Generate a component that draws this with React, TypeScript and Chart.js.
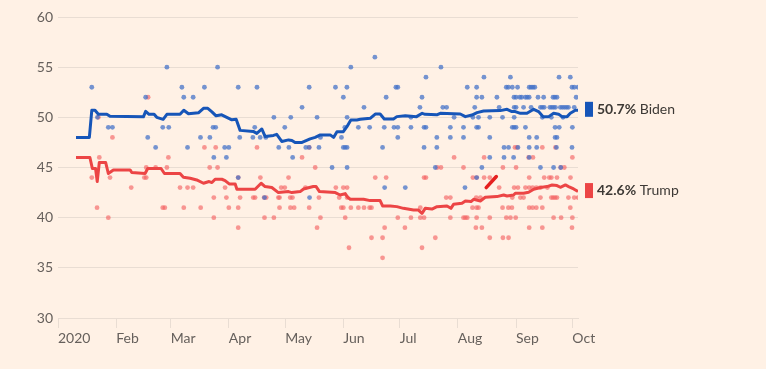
import { useEffect, useRef } from "react";
import { Chart, registerables } from "chart.js";

Chart.register(...registerables);

// x values are days since 1 Jan 2020
const monthTickDays = [0, 31, 60, 91, 121, 152, 182, 213, 244, 274];
const monthTickLabels = ["2020", "Feb", "Mar", "Apr", "May", "Jun", "Jul", "Aug", "Sep", "Oct"];

const bidenAverage: [number, number][] = [
  [9.6, 48], [16.7, 48], [18, 50.7], [19.7, 50.7], [21.5, 50.3], [26, 50.3], [27.7, 50.1], [45.5, 50.05],
  [46.7, 50.6], [48.5, 50.3], [51.2, 50.3], [52.6, 50.0], [56, 49.8], [58, 50.3], [65, 50.3], [67, 50.7],
  [69.5, 50.35], [74.8, 50.45], [77.5, 50.9], [79.8, 50.9], [82, 50.55], [84.2, 50.15], [87.2, 50.25],
  [89.9, 50.0], [92.6, 49.75], [94.9, 49.8], [97, 48.7], [104, 48.6], [105.9, 48.4], [108.6, 48.84],
  [110.3, 48.1], [114.8, 48.2], [116.5, 48.3], [119.2, 47.6], [122.8, 47.75], [124.6, 47.7], [126.3, 47.5],
  [130, 47.5], [134.3, 47.85], [137, 48.0], [139.7, 48.25], [145, 48.25], [146.8, 48.0], [148.6, 48.57],
  [152, 48.57], [153.9, 49.07], [156, 49.74], [159.2, 49.74], [161, 49.8], [166.3, 49.9], [169, 50.33],
  [171.6, 50.33], [173.8, 49.84], [178.7, 49.84], [180.5, 50.07], [185, 50.16], [191, 50.07], [194, 50.4],
  [195.6, 50.3], [201.8, 50.25], [203.6, 50.4], [214.3, 50.33], [217, 50.07], [220.5, 50.23], [223.2, 50.47],
  [226.7, 50.63], [235.6, 50.67], [239.2, 50.8], [241.8, 50.57], [243.6, 50.57], [246.3, 50.4], [249.8, 50.4],
  [253.4, 50.8], [256, 50.57], [258.4, 50.07], [261.4, 50.07], [264, 50.4], [266.7, 50.3], [268.5, 50.07],
  [271.2, 50.07], [272.9, 50.4], [275.6, 50.7], [277, 50.7],
];

const trumpAverage: [number, number][] = [
  [9.6, 46], [17, 46], [18.3, 44.9], [20, 44.9], [20.9, 43.6], [22, 45.5], [25.4, 45.5], [26.8, 44.4],
  [29.5, 44.76], [38.4, 44.76], [39.3, 44.5], [46.4, 44.4], [47.8, 44.9], [54.9, 44.9], [56.7, 44.4],
  [65, 44.4], [66.8, 44.03], [70.4, 43.93], [73.9, 43.76], [77.5, 43.43], [80.5, 43.6], [82, 43.5],
  [83.7, 43.83], [87.3, 43.83], [89, 43.7], [91.2, 43.36], [94.4, 43.36], [95.3, 42.83], [105, 42.83],
  [108.2, 43.43], [110.3, 43.1], [113.9, 43.0], [117.4, 42.5], [122.8, 42.6], [124.6, 42.5], [129, 42.6],
  [130.8, 42.86], [136, 43.1], [137.5, 43.1], [139.3, 42.6], [147.7, 42.5], [150.3, 42.26], [153, 42.4],
  [154.3, 42.03], [155.7, 41.83], [162.8, 41.83], [166.3, 41.7], [171.6, 41.7], [172.9, 41.17], [177, 41.17],
  [180.5, 41.1], [184, 40.93], [189.4, 40.76], [192, 40.76], [193.9, 40.43], [195.6, 40.93], [199.2, 40.86],
  [201.9, 41.1], [207.2, 41.17], [209.3, 40.93], [210.7, 41.33], [215.2, 41.43], [217, 41.66], [220, 41.6],
  [221.4, 41.83], [225, 41.66], [227.6, 42.03], [233.8, 42.1], [237.4, 42.26], [239.2, 42.16], [242.7, 42.26],
  [243.6, 42.43], [248, 42.43], [250.7, 42.53], [253.4, 42.83], [257, 43.0], [260.5, 43.1], [263.2, 43.26],
  [265.8, 43.2], [267.6, 43.03], [270.3, 43.26], [272, 43.1], [274.7, 42.86], [277, 42.6],
];

// individual polls: [share, days...]
const bidenPolls: [number, number[]][] = [
  [56, [168.8]],
  [55, [58, 85, 156, 204]],
  [54, [196, 226.9, 241, 266.9, 272.9]],
  [53, [18, 66, 78, 96, 106, 133.8, 147.8, 153.9, 180, 181, 218, 223, 238.8, 239.9, 242, 244.8, 251, 252, 253, 254, 273.8, 275, 277]],
  [52, [46.7, 67, 72, 152, 174.8, 193.9, 223, 225.8, 233.8, 242.9, 244, 246, 247, 249, 250, 251, 255.7, 258.7, 263.7, 264.7, 265.8, 276]],
  [51, [130, 163, 192.8, 205, 207, 222, 235, 243, 244, 248, 252, 257, 258, 259, 262, 263, 264, 265, 267.6, 268.7, 269.8, 270.9, 271.9, 275]],
  [50, [21, 115, 124, 138, 154, 188, 211, 221, 224, 230, 236.8, 243, 258, 262.8, 269]],
  [49, [26.8, 29, 55.8, 59, 82.6, 84, 104.8, 120.8, 152.8, 160, 166, 173.8, 179, 181, 188, 195, 196, 209, 216, 223, 224, 242, 243, 244, 249, 264.8, 267, 274]],
  [48, [47.8, 75.9, 80.9, 96.8, 103.8, 107.7, 110.7, 139.8, 151, 181, 201.8, 209, 216, 230, 251, 255, 264.8, 265.8]],
  [47, [52, 69, 88.8, 91, 117.6, 123, 132, 133.8, 139, 152, 153, 154, 172.9, 195, 201.8, 237.6, 240, 245, 251, 255, 265.5, 273.8]],
  [46, [83, 89.7, 125, 230, 237.6, 242.7, 251]],
  [45, [146, 154, 201, 225.8, 257, 264, 267.8]],
  [44, [96, 223]],
  [43, [174, 185, 216.8]],
  [42, [110, 134]],
];

const trumpPolls: [number, number[]][] = [
  [52, [48]],
  [50, [21.5]],
  [48, [29]],
  [47, [78, 84, 106, 133.8, 243.4, 244.5, 258, 265]],
  [46, [22, 58.8, 130, 211, 227, 250.7, 253, 274]],
  [45, [47, 52, 58, 80.8, 85, 137, 202, 204, 216, 237, 244, 267.8, 269.7]],
  [44, [18, 27.7, 46, 47, 96, 107.8, 122.8, 169, 174.8, 195, 196, 221, 223, 227, 230, 251, 259, 261.7, 262.8, 265.8, 273]],
  [43, [39, 65, 69, 72, 89, 118.9, 120.8, 131.8, 148, 152, 154, 235, 243, 245, 249, 251, 252.8, 254.8, 257, 260.7]],
  [42, [83, 89.7, 97, 104, 105, 109.8, 110.9, 117.4, 118, 123.7, 124.9, 139, 149.8, 154, 206.8, 209, 222.8, 225, 242, 246.3, 248, 257, 262.8, 263.8, 264.8, 265.8, 271.9, 275, 277]],
  [41, [20.8, 55.8, 56.9, 67, 76, 91, 96, 118, 123.8, 125.8, 133.8, 150.9, 152, 156, 160, 163, 166, 167, 193, 220.8, 223, 224, 236.8, 239.9, 241.8, 251, 252.8, 254.8, 258, 272.9]],
  [40, [26.8, 83, 110, 115, 139.8, 153, 181, 188, 193, 195, 209, 216, 217, 218, 223, 230, 238.8, 241, 243.8, 264, 268, 274]],
  [39, [96, 138, 174, 184.8, 222.6, 225.8, 251, 258, 273.8]],
  [38, [167, 172.9, 201, 230, 237, 240]],
  [37, [155, 193.9]],
  [36, [172.9]],
];

const redMark: [number, number][] = [[228.1, 43.0], [233.5, 44.1]];

const endLabels = [
  { value: "50.7%", name: "Biden", color: "#1655b8" },
  { value: "42.6%", name: "Trump", color: "#ec4545" },
];

const BG = "#fff1e5";
const GRID = "#e9ddd3";
const TEXT = "#66605c";
const FONT = "Lato, 'Noto Sans', sans-serif";

const toXY = (pairs: [number, number][]) => pairs.map(([x, y]) => ({ x, y }));
const pollPoints = (rows: [number, number[]][]) =>
  rows.flatMap(([v, days]) => days.map((d) => ({ x: d, y: v })));

export default function App() {
  const ref = useRef<HTMLCanvasElement | null>(null);

  useEffect(() => {
    document.body.style.margin = "0";
    document.body.style.background = BG;
    const canvas = ref.current;
    if (!canvas) return;

    const labelPlugin = {
      id: "endLabels",
      afterDatasetsDraw(chart: any) {
        const { ctx, chartArea } = chart;
        const yScale = chart.scales.y;
        const lastVals = [bidenAverage[bidenAverage.length - 1][1], trumpAverage[trumpAverage.length - 1][1]];
        ctx.save();
        endLabels.forEach((lab, i) => {
          const py = yScale.getPixelForValue(lastVals[i]) - 1;
          const bx = chartArea.right + 7;
          ctx.fillStyle = lab.color;
          ctx.fillRect(bx, py - 7.5, 8, 15);
          ctx.textBaseline = "middle";
          ctx.textAlign = "left";
          ctx.fillStyle = "#3d3935";
          ctx.font = `bold 14px ${FONT}`;
          const tx = bx + 12;
          ctx.fillText(lab.value, tx, py);
          const w = ctx.measureText(lab.value).width;
          ctx.font = `14px ${FONT}`;
          ctx.fillText(" " + lab.name, tx + w, py);
        });
        ctx.restore();
      },
    };

    const chart = new Chart(canvas, {
      type: "scatter",
      data: {
        datasets: [
          {
            type: "line",
            data: toXY(bidenAverage),
            borderColor: "#1655b8",
            borderWidth: 3,
            pointRadius: 0,
            tension: 0,
            borderJoinStyle: "round",
            order: 0,
          } as any,
          {
            type: "line",
            data: toXY(trumpAverage),
            borderColor: "#ec4545",
            borderWidth: 3,
            pointRadius: 0,
            tension: 0,
            borderJoinStyle: "round",
            order: 0,
          } as any,
          {
            type: "line",
            data: toXY(redMark),
            borderColor: "#e5201f",
            borderWidth: 3.5,
            pointRadius: 0,
            borderCapStyle: "round",
            order: 0,
          } as any,
          {
            data: pollPoints(bidenPolls),
            backgroundColor: "rgba(70,115,200,0.75)",
            borderWidth: 0,
            pointRadius: 2.4,
            order: 1,
          },
          {
            data: pollPoints(trumpPolls),
            backgroundColor: "rgba(245,100,100,0.65)",
            borderWidth: 0,
            pointRadius: 2.4,
            order: 2,
          },
        ],
      },
      options: {
        responsive: false,
        animation: false,
        layout: { padding: { top: 17, right: 188, left: 0, bottom: 0 } },
        plugins: { legend: { display: false }, tooltip: { enabled: false } },
        scales: {
          x: {
            type: "linear",
            min: 0,
            max: 277,
            afterBuildTicks: (s: any) => {
              s.ticks = monthTickDays.map((v) => ({ value: v }));
            },
            afterFit: (s: any) => {
              s.height = 51;
            },
            ticks: {
              align: "start",
              padding: 2,
              color: TEXT,
              font: { family: FONT, size: 14 },
              maxRotation: 0,
              autoSkip: false,
              callback: (_v: any, i: number) => monthTickLabels[i],
            },
            grid: { drawOnChartArea: false, color: GRID, tickLength: 10 },
            border: { color: GRID },
          },
          y: {
            min: 30,
            max: 60,
            afterFit: (s: any) => {
              s.width = 58;
            },
            ticks: {
              stepSize: 5,
              padding: 5,
              color: TEXT,
              font: { family: FONT, size: 14 },
            },
            grid: { color: GRID, drawTicks: false },
            border: { display: false },
          },
        },
      },
      plugins: [labelPlugin],
    });

    return () => chart.destroy();
  }, []);

  return (
    <div style={{ width: 766, height: 369, background: BG }}>
      <canvas ref={ref} width={766} height={369} style={{ display: "block" }} />
    </div>
  );
}
